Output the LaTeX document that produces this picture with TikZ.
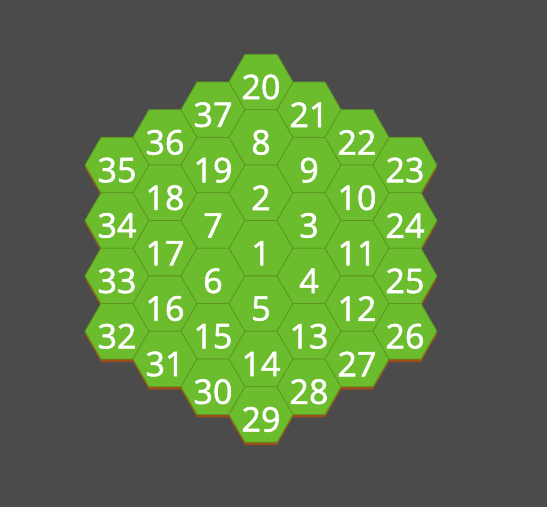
\documentclass[tikz,border=0pt]{standalone}
\usepackage{fontspec}
\setmainfont{Open Sans}
\newfontfamily\numfont{Open Sans}[BoldFont={Open Sans}, BoldFeatures={FakeBold=1.6}]
\usetikzlibrary{shapes.geometric}
\definecolor{bg}{HTML}{4B4B4B}
\definecolor{hexgreen}{HTML}{6BBD2E}
\definecolor{hexline}{HTML}{5C961E}
\definecolor{hexbrown}{HTML}{9C4E1A}
\tikzset{
  hexshape/.style={regular polygon, regular polygon sides=6, minimum size=64pt, inner sep=0pt},
  hexcell/.style={hexshape, fill=hexgreen, draw=hexline, line width=0.8pt},
  hexbase/.style={hexshape, fill=hexbrown, draw=none},
  hexnum/.style={text=white, inner sep=0pt, font=\numfont\bfseries\fontsize{34}{34}\selectfont}
}
\def\hexcols{-3/{35,34,33,32},-2/{36,18,17,16,31},-1/{37,19,7,6,15,30},0/{20,8,2,1,5,14,29},1/{21,9,3,4,13,28},2/{22,10,11,12,27},3/{23,24,25,26}}
\begin{document}
\begin{tikzpicture}[x=1pt,y=1pt]
\fill[bg] (0,0) rectangle (547,507);
\useasboundingbox (0,0) rectangle (547,507);
% brown base (3D edge)
\foreach \c/\list in \hexcols {
  \foreach \l [count=\i from 0] in \list {
    \pgfmathsetmacro{\hx}{261+48*\c}
    \pgfmathsetmacro{\hy}{507-(82+27.7*abs(\c)+55.4*\i)-3}
    \node[hexbase] (b\l) at (\hx,\hy) {};
  }
}
% green cells
\foreach \c/\list in \hexcols {
  \foreach \l [count=\i from 0] in \list {
    \pgfmathsetmacro{\hx}{261+48*\c}
    \pgfmathsetmacro{\hy}{507-(82+27.7*abs(\c)+55.4*\i)}
    \node[hexcell] (h\l) at (\hx,\hy) {};
  }
}
% numbers
\foreach \c/\list in \hexcols {
  \foreach \l [count=\i from 0] in \list {
    \node[hexnum] (t\l) at ([yshift=-5pt]h\l.center) {\l};
  }
}
\end{tikzpicture}
\end{document}
